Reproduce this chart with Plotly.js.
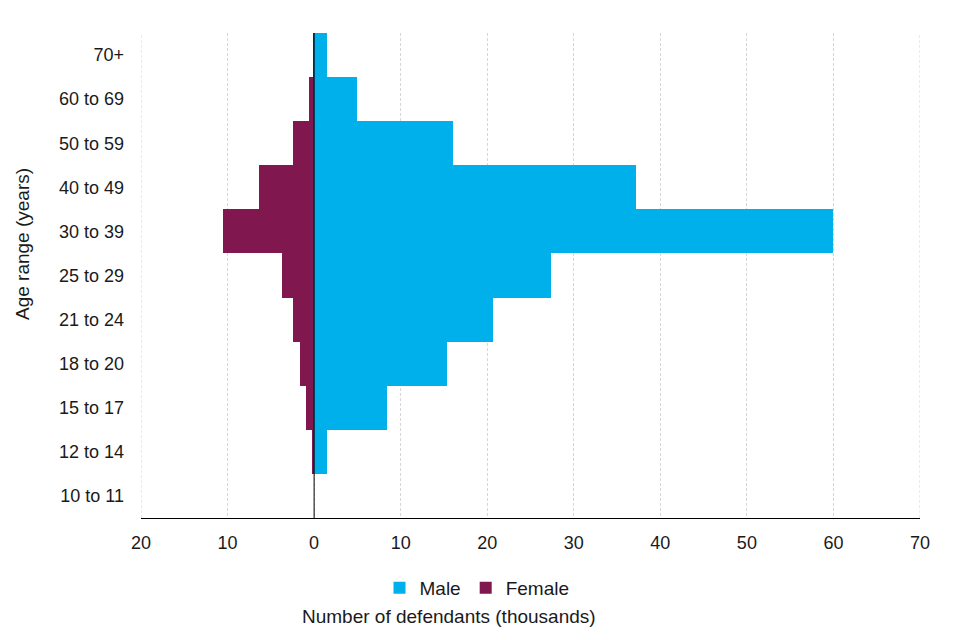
<!DOCTYPE html>
<html>
<head>
<meta charset="utf-8">
<script src="https://cdn.plot.ly/plotly-3.0.1.min.js"></script>
<style>html,body{margin:0;padding:0;background:#fff;}#chart{width:960px;height:640px;}</style>
</head>
<body>
<div id="chart"></div>
<script>
const ageRanges = ["10 to 11","12 to 14","15 to 17","18 to 20","21 to 24","25 to 29","30 to 39","40 to 49","50 to 59","60 to 69","70+"];
const maleValues = [0, 1.5, 8.4, 15.3, 20.7, 27.4, 60.0, 37.2, 16.0, 4.9, 1.45];
const femaleValues = [0, 0.27, 0.9, 1.65, 2.45, 3.7, 10.5, 6.4, 2.45, 0.6, 0.1];
const tickValues = [-20,-10,0,10,20,30,40,50,60,70];
const tickLabels = ["20","10","0","10","20","30","40","50","60","70"];

const font = "Liberation Sans, Arial, sans-serif";
const txt = "#1a1a1a";
const traces = [
  {type:"bar", orientation:"h", name:"Male", y:ageRanges, x:maleValues,
   marker:{color:"#00B0EB", line:{width:0}}},
  {type:"bar", orientation:"h", name:"Female", y:ageRanges, x:femaleValues.map(v=>-v),
   marker:{color:"#80174F", line:{width:0}}}
];
const layout = {
  width:960, height:640,
  margin:{l:141, r:40, t:33, b:122},
  paper_bgcolor:"#fff", plot_bgcolor:"#fff",
  font:{family:font, size:18, color:txt},
  barmode:"relative", bargap:0,
  showlegend:true,
  legend:{orientation:"h", x:(477-141)/779, xanchor:"center", y:-(569-518)/485, yanchor:"top",
          font:{family:font, size:19, color:txt}, itemwidth:30, tracegroupgap:0},
  xaxis:{range:[-20,70], tickvals:tickValues, ticktext:tickLabels,
         showgrid:true, gridcolor:"#d6d6d6", griddash:"3px,2px", gridwidth:1,
         zeroline:false,
         showline:true, linecolor:"#000", linewidth:1, ticks:"", ticklen:0,
         ticklabelstandoff:8,
         tickfont:{family:font, size:18, color:txt}, fixedrange:true},
  yaxis:{type:"category", categoryorder:"array", categoryarray:ageRanges,
         showgrid:false, zeroline:false, showline:false, ticks:"",
         ticklabelstandoff:16,
         tickfont:{family:font, size:18, color:txt}, fixedrange:true},
  shapes:[
    {type:"line", xref:"x", yref:"paper", x0:0, x1:0, y0:0, y1:1,
     line:{color:"#000", width:1}, layer:"above"},
    {type:"line", xref:"x", yref:"paper", x0:-20, x1:-20, y0:0, y1:1,
     line:{color:"#d6d6d6", width:1, dash:"3px,2px"}, layer:"below"},
    {type:"line", xref:"x", yref:"paper", x0:70, x1:70, y0:0, y1:1,
     line:{color:"#d6d6d6", width:1, dash:"3px,2px"}, layer:"below"}
  ],
  annotations:[
    {text:"Number of defendants (thousands)", xref:"paper", yref:"paper",
     x:(449-141)/779, y:-(616-518)/485, xanchor:"center", yanchor:"middle",
     showarrow:false, font:{family:font, size:19, color:txt}},
    {text:"Age range (years)", xref:"paper", yref:"paper", textangle:-90,
     x:(22-141)/779, y:(518-244)/485, xanchor:"center", yanchor:"middle",
     showarrow:false, font:{family:font, size:19, color:txt}}
  ]
};
Plotly.newPlot("chart", traces, layout, {displayModeBar:false, staticPlot:true});
</script>
</body>
</html>
